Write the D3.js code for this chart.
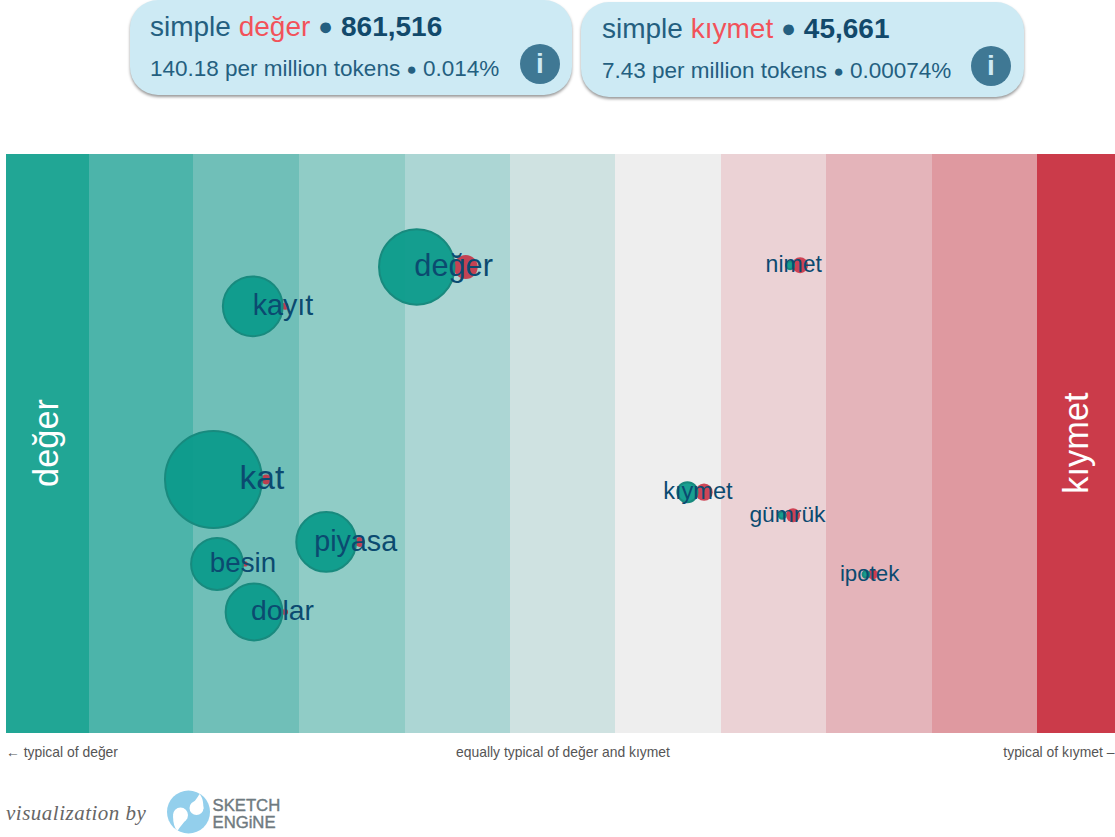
<!DOCTYPE html>
<html lang="tr">
<head>
<meta charset="utf-8">
<title>değer / kıymet</title>
<script src="https://d3js.org/d3.v7.min.js"></script>
<style>
	html, body { margin: 0; padding: 0; background: #fff; overflow: hidden; }
	body { width: 1115px; height: 837px; position: relative; font-family: "Liberation Sans", Arial, sans-serif; }
	svg { position: absolute; left: 0; top: 0; }
	.box { position: absolute; box-sizing: border-box; background: #cdeaf4; border-radius: 28px;
		box-shadow: 0 2px 3px rgba(0,0,0,.4); color: #245f80; white-space: nowrap; }
	.box .l1 { position: absolute; font-size: 28px; line-height: 30px; }
	.box .l2 { position: absolute; font-size: 22.5px; line-height: 24px; }
	.box .w { color: #f2525a; }
	.box b { color: #12496b; }
	.box .i { position: absolute; width: 40px; height: 40px; border-radius: 50%; background: #3f7894;
		color: #cdeaf4; font: bold 28px/40px "Liberation Sans", Arial, sans-serif; text-align: center; }
</style>
</head>
<body>
<script>
	// values
	var lemmas = ["değer", "kayıt", "kat", "piyasa", "besin", "dolar", "kıymet", "gümrük", "ipotek", "nimet"];
	// typicality of each lemma for the two words, 0 = equally typical
	var scoreA = [-1.39, -2.947, -3.32, -2.25, -3.286, -2.935, 1.18, 2.08, 2.876, 2.155];
	var scoreB = [-0.925, -2.64, -2.82, -1.93, -3.02, -2.64, 1.338, 2.183, 2.94, 2.25];
	var labelScore = [-1.04, -2.66, -2.86, -1.97, -3.04, -2.665, 1.28, 2.13, 2.91, 2.19];
	var rowPos = [19.5, 26.3, 56.2, 67, 70.8, 79.1, 58.4, 62.4, 72.6, 19.2];
	// relative frequency, largest = 100
	var freqA = [60.5, 38, 100, 38, 28.7, 34.3, 4.25, 0.5, 0.5, 0.68];
	var freqB = [6.1, 0.5, 1.06, 1.06, 0.3, 0.37, 3.2, 2.1, 1.06, 2.7];
	var bandColors = ["#21a695", "#4cb4aa", "#70bfb8", "#90ccc6", "#acd6d4", "#cfe2e1", "#eeeeee", "#ebd2d5", "#e4b4ba", "#df99a0", "#cb3b4a"];
	var bandEdges = [-5.29, -4.5, -3.51, -2.51, -1.5, -0.5, 0.49, 1.5, 2.5, 3.5, 4.5, 5.24];
	var words = ["değer", "kıymet"];
	var hits = ["861,516", "45,661"];
	var perMillion = ["140.18", "7.43"];
	var percents = ["0.014%", "0.00074%"];

	var w = 1115;
	var h = 837;

	var xScale = d3.scaleLinear().domain([-5.29, 5.24]).range([6, 1115]);
	var yScale = d3.scaleLinear().domain([0, 100]).range([154, 733]);
	var rScale = d3.scaleSqrt().domain([0, 100]).range([0, 48.5]);
	var fontScale = d3.scaleLinear().domain([0, 48.5]).range([21, 33.5]);

	// the two header boxes
	var boxes = d3.select("body").selectAll("div.box")
		.data(words)
		.enter()
		.append("div")
		.attr("class", "box")
		.style("left", function(d, i) { return (i == 0 ? 130 : 581) + "px"; })
		.style("top", function(d, i) { return (i == 0 ? 0 : 1.5) + "px"; })
		.style("width", function(d, i) { return (i == 0 ? 442 : 443) + "px"; })
		.style("height", "95px");

	boxes.append("div")
		.attr("class", "l1")
		.style("left", function(d, i) { return (i == 0 ? 20 : 21) + "px"; })
		.style("top", "12px")
		.html(function(d, i) {
			return "simple <span class='w'>" + d + "</span> <span style='font-size:25px;position:relative;top:-1px'>●</span> <b>" + hits[i] + "</b>";
		});

	boxes.append("div")
		.attr("class", "l2")
		.style("left", function(d, i) { return (i == 0 ? 20 : 21) + "px"; })
		.style("top", "57px")
		.html(function(d, i) {
			return perMillion[i] + " per million tokens <span style='font-size:17px;position:relative;top:-1px'>●</span> " + percents[i];
		});

	boxes.append("div")
		.attr("class", "i")
		.style("left", "390px")
		.style("top", "44px")
		.text("i");

	//Create SVG element
	var svg = d3.select("body")
		.append("svg")
		.attr("width", w)
		.attr("height", h);

	//Background bands
	svg.selectAll("rect.band")
		.data(bandColors)
		.enter()
		.append("rect")
		.attr("class", "band")
		.attr("x", function(d, i) { return xScale(bandEdges[i]); })
		.attr("y", yScale(0))
		.attr("width", function(d, i) { return xScale(bandEdges[i + 1]) - xScale(bandEdges[i]); })
		.attr("height", yScale(100) - yScale(0))
		.attr("shape-rendering", "crispEdges")
		.attr("fill", function(d) { return d; });

	//Side titles
	svg.append("text")
		.attr("transform", "translate(58,443) rotate(-90)")
		.attr("text-anchor", "middle")
		.attr("font-size", "34.4px")
		.attr("fill", "#fff")
		.text(words[0]);

	svg.append("text")
		.attr("transform", "translate(1088,443) rotate(-90)")
		.attr("text-anchor", "middle")
		.attr("font-size", "34.4px")
		.attr("fill", "#fff")
		.text(words[1]);

	//Red circles
	svg.selectAll("circle.b")
		.data(lemmas)
		.enter()
		.append("circle")
		.attr("class", "b")
		.attr("cx", function(d, i) { return xScale(scoreB[i]); })
		.attr("cy", function(d, i) { return yScale(rowPos[i]); })
		.attr("r", function(d, i) { return rScale(freqB[i]); })
		.attr("fill", "#c8283c")
		.attr("fill-opacity", 0.85);

	//Teal circles
	svg.selectAll("circle.a")
		.data(lemmas)
		.enter()
		.append("circle")
		.attr("class", "a")
		.attr("cx", function(d, i) { return xScale(scoreA[i]); })
		.attr("cy", function(d, i) { return yScale(rowPos[i]); })
		.attr("r", function(d, i) { return rScale(freqA[i]); })
		.attr("fill", "#0c9b8b")
		.attr("fill-opacity", 0.95)
		.attr("stroke", "#188a7e")
		.attr("stroke-width", 2);

	//Labels
	svg.selectAll("text.lemma")
		.data(lemmas)
		.enter()
		.append("text")
		.attr("class", "lemma")
		.attr("x", function(d, i) { return xScale(labelScore[i]); })
		.attr("y", function(d, i) { return yScale(rowPos[i]); })
		.attr("dy", "0.3em")
		.attr("text-anchor", "middle")
		.attr("font-size", function(d, i) { return fontScale(Math.max(rScale(freqA[i]), rScale(freqB[i]))) + "px"; })
		.attr("fill", "#0b4a70")
		.text(function(d) { return d; });

	//Bottom captions
	var captions = ["← typical of " + words[0], "equally typical of " + words[0] + " and " + words[1], "typical of " + words[1] + " –"];
	svg.selectAll("text.caption")
		.data(captions)
		.enter()
		.append("text")
		.attr("class", "caption")
		.attr("x", function(d, i) { return [6, 563, 1114.5][i]; })
		.attr("y", 757)
		.attr("text-anchor", function(d, i) { return ["start", "middle", "end"][i]; })
		.attr("font-size", "13.9px")
		.attr("fill", "#555")
		.text(function(d) { return d; });

	//Credit line
	svg.append("text")
		.attr("x", 6)
		.attr("y", 820)
		.attr("font-family", "'Liberation Serif', serif")
		.attr("font-style", "italic")
		.attr("font-size", "21px")
		.attr("letter-spacing", "0.5px")
		.attr("fill", "#666")
		.text("visualization by");

	var logo = svg.append("g").attr("transform", "translate(188.5,812)");
	logo.append("circle").attr("r", 21.5).attr("fill", "#93cfec");
	logo.append("circle").attr("cx", -8).attr("cy", 3).attr("r", 7.5).attr("fill", "#fff");
	logo.append("circle").attr("cx", 8).attr("cy", -4).attr("r", 7).attr("fill", "#fff");
	logo.append("path").attr("d", "M-15.4,4 C-15.5,11 -14,16 -11,19 C-9,15 -5,11 -1,6 Z").attr("fill", "#fff");
	logo.append("path").attr("d", "M14.9,-3 C15,-10 14,-15 11,-18 C9,-14 5,-10 1.6,-5 Z").attr("fill", "#fff");

	var logoText = logo.append("text")
		.attr("font-size", "16.7px")
		.attr("fill", "#6f7a80")
		.attr("stroke", "#6f7a80")
		.attr("stroke-width", 0.4);
	logoText.append("tspan").attr("x", 24).attr("y", -1).text("SKETCH");
	logoText.append("tspan").attr("x", 24).attr("y", 16).text("ENGiNE");
</script>
</body>
</html>
